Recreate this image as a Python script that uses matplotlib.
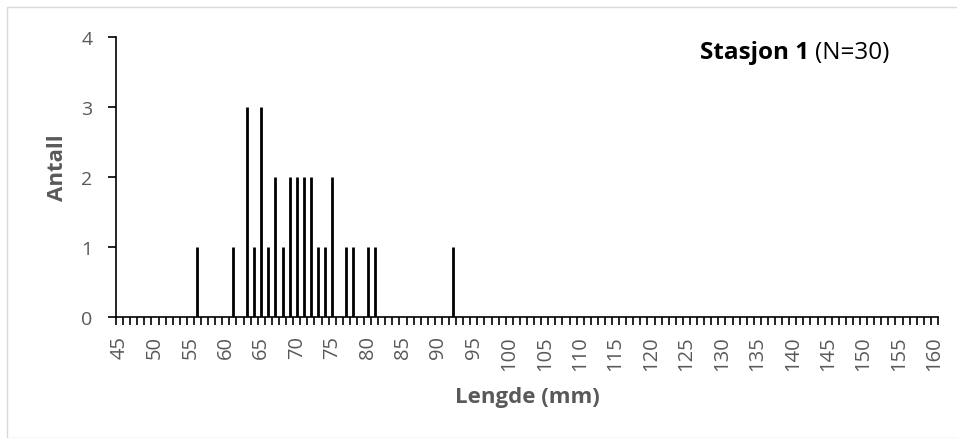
import matplotlib

matplotlib.use("Agg")
import matplotlib.pyplot as plt
import numpy as np
from matplotlib.patches import Rectangle

# length classes (mm) and counts
lengths = np.arange(45, 161)
measured = [56, 61, 63, 64, 65, 66, 67, 68, 69, 70, 71, 72, 73, 74, 75, 77, 78, 80, 81, 92]
counts_measured = [1, 1, 3, 1, 3, 1, 2, 1, 2, 2, 2, 2, 1, 1, 2, 1, 1, 1, 1, 1]
counts = np.zeros(len(lengths))
for m, c in zip(measured, counts_measured):
    counts[m - 45] = c

tick_labels = [str(v) for v in range(45, 161, 5)]

plt.rcParams["font.family"] = ["Open Sans", "DejaVu Sans"]
GREY = "#595959"

W, H = 957, 439
fig = plt.figure(figsize=(W / 100, H / 100), dpi=100)
ax = fig.add_axes([116 / W, 1 - 318 / H, (938 - 116) / W, (318 - 38) / H])

# light chart-area border
fig.patches.append(Rectangle((7 / W, 0), 1, 1 - 8 / H, transform=fig.transFigure,
                             fill=False, edgecolor="#d9d9d9", linewidth=1.0))

ax.vlines(lengths, 0, counts, colors="black", linewidth=2)

ax.set_xlim(44.5, 160.5)
ax.set_ylim(0, 4)
for side in ("top", "right"):
    ax.spines[side].set_visible(False)
ax.spines["left"].set_linewidth(1.2)
ax.spines["bottom"].set_linewidth(1.2)

# category boundary ticks (unlabelled), labels every 5 mm
ax.set_xticks(np.arange(44.5, 161, 1.0))
ax.set_xticklabels([])
ax.tick_params(axis="x", which="major", length=6, width=1.2, direction="out", color="black")
ax.set_xticks(np.arange(45, 161, 5), minor=True)
ax.set_xticklabels(tick_labels, minor=True, rotation=90, fontsize=14.5, color=GREY)
ax.tick_params(axis="x", which="minor", length=0, pad=13)

ax.set_yticks([0, 1, 2, 3, 4])
ax.tick_params(axis="y", length=6, width=1.2, labelsize=14, labelcolor=GREY, pad=11)

ax.set_ylabel("Antall", fontsize=16, fontweight="bold", color=GREY, va="center")
ax.yaxis.set_label_coords((57 - 116) / 822, (318 - 167.5) / 280)
ax.set_xlabel("Lengde (mm)", fontsize=16, fontweight="bold", color=GREY, va="center")
ax.xaxis.set_label_coords(0.5, (318 - 397) / 280)

# title in two weights, laid out end to end
t1 = fig.text(700 / W, 1 - 53 / H, "Stasjon 1", fontsize=17.5, fontweight="bold",
              color="black", va="center", ha="left")
fig.canvas.draw()
bb = t1.get_window_extent()
fig.text((bb.x1 + 6) / W, 1 - 53 / H, "(N=30)", fontsize=17.5, color="black",
         va="center", ha="left")

fig.savefig("out.png", dpi=100)
plt.close(fig)
